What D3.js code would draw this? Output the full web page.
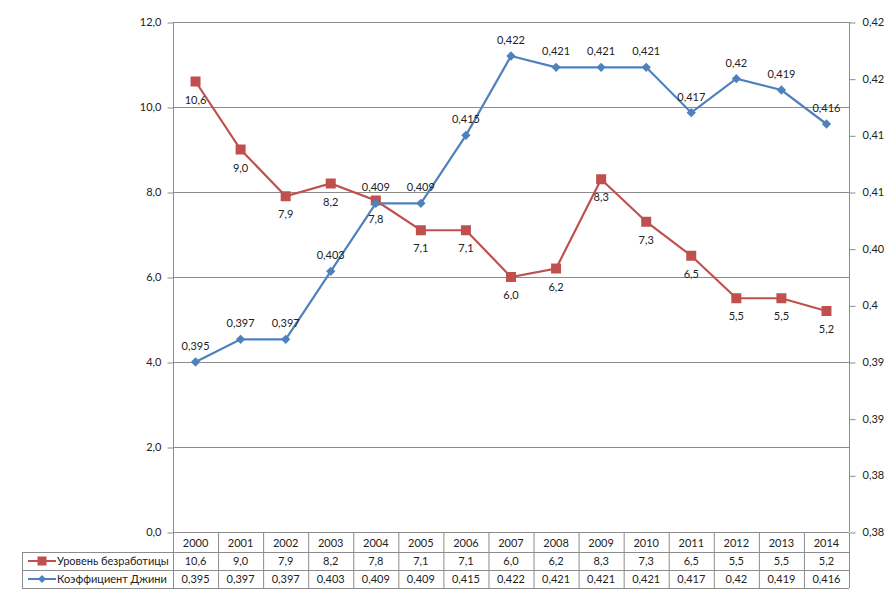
<!DOCTYPE html>
<html><head><meta charset="utf-8">
<script src="https://cdn.jsdelivr.net/npm/d3@7"></script>
<style>
html,body{margin:0;padding:0;background:#fff;}
text{font-family:Lato,"Open Sans",sans-serif;font-size:11px;fill:#222;}
</style></head>
<body>
<svg id="c" width="884" height="590"></svg>
<script>
const years = ["2000","2001","2002","2003","2004","2005","2006","2007","2008","2009","2010","2011","2012","2013","2014"];
const unemployment = [10.6,9.0,7.9,8.2,7.8,7.1,7.1,6.0,6.2,8.3,7.3,6.5,5.5,5.5,5.2];
const gini = [0.395,0.397,0.397,0.403,0.409,0.409,0.415,0.422,0.421,0.421,0.421,0.417,0.42,0.419,0.416];
const leftTicks = [0,2,4,6,8,10,12];
const rightTicks = [0.38,0.385,0.39,0.395,0.4,0.405,0.41,0.415,0.42,0.425];
const seriesNames = ["Уровень безработицы","Коэффициент Джини"];

const RED = "#C0504D", BLUE = "#4F81BD", GRID = "#8c8c8c";
const svg = d3.select("#c");
const L = 173, R = 849, T = 22, B = 532;
const x = d3.scaleBand().domain(years).range([L, R]);
const yL = d3.scaleLinear().domain([0, 12]).range([B, T]);
const yR = d3.scaleLinear().domain([0.38, 0.425]).range([B, T]);
const fmt1 = v => v.toFixed(1).replace(".", ",");
const fmtG = v => String(+v.toFixed(3)).replace(".", ",");

// gridlines
svg.append("g").selectAll("line").data(leftTicks).join("line")
  .attr("x1", L).attr("x2", R).attr("y1", d => yL(d) + 0.5).attr("y2", d => yL(d) + 0.5)
  .attr("stroke", GRID).attr("stroke-width", 1);

// left axis
const gl = svg.append("g").attr("transform", `translate(${L + 0.5},0)`)
  .call(d3.axisLeft(yL).tickValues(leftTicks).tickFormat(fmt1).tickSize(6).tickPadding(6));
gl.select(".domain").attr("stroke", GRID).attr("d", `M-0,${T}V${588}`);
gl.selectAll(".tick line").attr("stroke", GRID).attr("transform", "translate(0,0.5)");
gl.selectAll("text").style("font-family", "Lato,'Open Sans',sans-serif").style("font-size", "11px").attr("fill", "#222");

// right axis
const gr = svg.append("g").attr("transform", `translate(${R + 0.5},0)`)
  .call(d3.axisRight(yR).tickValues(rightTicks).tickFormat(fmtG).tickSize(6).tickPadding(7));
gr.select(".domain").attr("stroke", GRID).attr("d", `M0,${T}V${B}`);
gr.selectAll(".tick line").attr("stroke", GRID).attr("transform", "translate(0,0.5)");
gr.selectAll("text").style("font-family", "Lato,'Open Sans',sans-serif").style("font-size", "11px").attr("fill", "#222");

// data table
const rowsY = [533, 552, 570, 588];
const tbl = svg.append("g");
// vertical lines between year columns
tbl.selectAll("line.v").data(years).join("line").attr("class","v")
  .attr("x1", d => x(d) + x.bandwidth() + 0.5).attr("x2", d => x(d) + x.bandwidth() + 0.5)
  .attr("y1", rowsY[0]).attr("y2", rowsY[3]).attr("stroke", GRID);
// horizontal lines
[1,2,3].forEach(i => {
  tbl.append("line").attr("x1", 22).attr("x2", R).attr("y1", rowsY[i] + 0.5).attr("y2", rowsY[i] + 0.5).attr("stroke", GRID);
});
tbl.append("line").attr("x1", 22.5).attr("x2", 22.5).attr("y1", rowsY[1]).attr("y2", rowsY[3]).attr("stroke", GRID);
// header years
tbl.selectAll("text.yr").data(years).join("text").attr("class","yr")
  .attr("x", d => x(d) + x.bandwidth()/2).attr("y", (rowsY[0]+rowsY[1])/2 + 4)
  .attr("text-anchor", "middle").text(d => d);
tbl.selectAll("text.u").data(unemployment).join("text").attr("class","u")
  .attr("x", (d,i) => x(years[i]) + x.bandwidth()/2).attr("y", (rowsY[1]+rowsY[2])/2 + 4)
  .attr("text-anchor", "middle").text(fmt1);
tbl.selectAll("text.g").data(gini).join("text").attr("class","g")
  .attr("x", (d,i) => x(years[i]) + x.bandwidth()/2).attr("y", (rowsY[2]+rowsY[3])/2 + 4)
  .attr("text-anchor", "middle").text(fmtG);
// legend keys
const ly1 = (rowsY[1]+rowsY[2])/2, ly2 = (rowsY[2]+rowsY[3])/2;
tbl.append("line").attr("x1", 28).attr("x2", 56).attr("y1", ly1).attr("y2", ly1).attr("stroke", RED).attr("stroke-width", 2);
tbl.append("rect").attr("x", 37.5).attr("y", ly1 - 4.5).attr("width", 9).attr("height", 9).attr("fill", RED);
tbl.append("text").attr("x", 57).attr("y", ly1 + 4).text(seriesNames[0]);
tbl.append("line").attr("x1", 28).attr("x2", 56).attr("y1", ly2).attr("y2", ly2).attr("stroke", BLUE).attr("stroke-width", 2);
tbl.append("path").attr("d", d3.symbol().type(d3.symbolDiamond2).size(40)()).attr("transform", `translate(42,${ly2})`).attr("fill", BLUE);
tbl.append("text").attr("x", 57).attr("y", ly2 + 4).text(seriesNames[1]);

// series lines
const cx = d => x(d) + x.bandwidth()/2;
const lineU = d3.line().x((d,i) => cx(years[i])).y(d => yL(d));
const lineG = d3.line().x((d,i) => cx(years[i])).y(d => yR(d));
svg.append("path").datum(unemployment).attr("d", lineU).attr("fill","none").attr("stroke", RED).attr("stroke-width", 2.2);
svg.append("path").datum(gini).attr("d", lineG).attr("fill","none").attr("stroke", BLUE).attr("stroke-width", 2.2);

// markers
svg.append("g").selectAll("rect").data(unemployment).join("rect")
  .attr("x", (d,i) => cx(years[i]) - 5).attr("y", d => yL(d) - 5)
  .attr("width", 10).attr("height", 10).attr("fill", RED);
svg.append("g").selectAll("path").data(gini).join("path")
  .attr("d", d3.symbol().type(d3.symbolDiamond2).size(55)())
  .attr("transform", (d,i) => `translate(${cx(years[i])},${yR(d)})`).attr("fill", BLUE);

// data labels
svg.append("g").selectAll("text").data(unemployment).join("text")
  .attr("x", (d,i) => cx(years[i])).attr("y", d => yL(d) + 22)
  .attr("text-anchor", "middle").text(fmt1);
svg.append("g").selectAll("text").data(gini).join("text")
  .attr("x", (d,i) => cx(years[i])).attr("y", d => yR(d) - 12)
  .attr("text-anchor", "middle").text(fmtG);
</script>
</body></html>
